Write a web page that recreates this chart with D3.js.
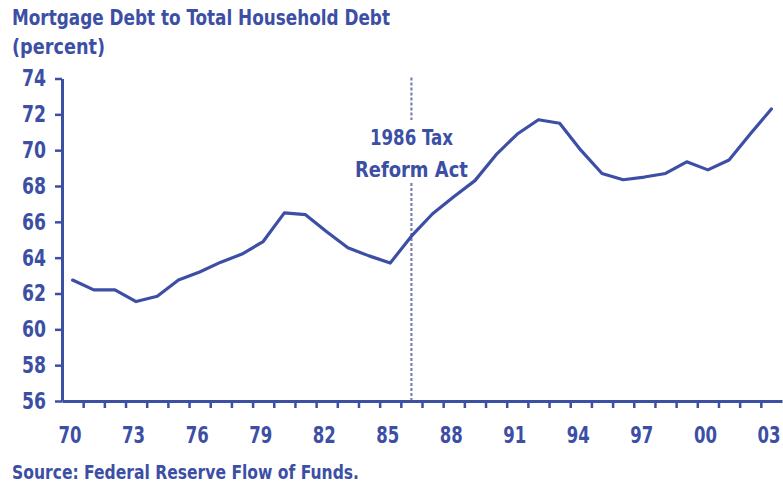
<!DOCTYPE html>
<html>
<head>
<meta charset="utf-8">
<script src="https://cdn.jsdelivr.net/npm/d3@7"></script>
<style>
  body { margin: 0; background: #fff; }
  svg text { font-family: "DejaVu Sans Condensed", "Liberation Sans", sans-serif; font-weight: bold; fill: #3c4fa5; }
</style>
</head>
<body>
<div id="chart"></div>
<script>
// data
var years = [1970, 1971, 1972, 1973, 1974, 1975, 1976, 1977, 1978, 1979,
             1980, 1981, 1982, 1983, 1984, 1985, 1986, 1987, 1988, 1989,
             1990, 1991, 1992, 1993, 1994, 1995, 1996, 1997, 1998, 1999,
             2000, 2001, 2002, 2003];
var mortgageShare = [62.75, 62.2, 62.2, 61.55, 61.85, 62.75, 63.2, 63.75, 64.2, 64.9,
                     66.5, 66.4, 65.45, 64.55, 64.1, 63.7, 65.2, 66.45, 67.4, 68.3,
                     69.75, 70.9, 71.7, 71.5, 70.0, 68.7, 68.35, 68.5, 68.7, 69.35,
                     68.9, 69.45, 70.9, 72.3];
var yTicks = [56, 58, 60, 62, 64, 66, 68, 70, 72, 74];
var xLabelYears = [1970, 1973, 1976, 1979, 1982, 1985, 1988, 1991, 1994, 1997, 2000, 2003];
var eventYear = 1986;
var eventLabel = ["1986 Tax", "Reform Act"];

var width = 783, height = 486;
var blue = "#3c4fa5";

var svg = d3.select("#chart")
  .append("svg")
    .attr("width", width)
    .attr("height", height);

var x = d3.scaleLinear().domain([1970, 2004]).range([62, 782]);
var y = d3.scaleLinear().domain([56, 74]).range([401, 78.5]);

// the reference uses a narrow face, so squeeze text to its measured widths
function squeeze(sel, w) {
  sel.attr("textLength", w).attr("lengthAdjust", "spacingAndGlyphs");
}

// title
svg.append("text")
    .attr("x", 12).attr("y", 25)
    .attr("font-size", "21px")
    .text("Mortgage Debt to Total Household Debt")
    .call(squeeze, 378);
svg.append("text")
    .attr("x", 12).attr("y", 54)
    .attr("font-size", "21px")
    .text("(percent)")
    .call(squeeze, 93);

// event marker (dashed, broken around the label)
var ex = x(eventYear + 0.5);
var dashed = svg.append("g")
    .attr("stroke", "#7a81b6")
    .attr("stroke-width", 2.2)
    .attr("stroke-dasharray", "3,2");
dashed.append("line").attr("x1", ex).attr("x2", ex).attr("y1", y(74) - 1).attr("y2", 120);
dashed.append("line").attr("x1", ex).attr("x2", ex).attr("y1", 183).attr("y2", y(56));

var labelWidths = [83, 113];
svg.selectAll(".event-label")
  .data(eventLabel)
  .enter().append("text")
    .attr("class", "event-label")
    .attr("x", ex)
    .attr("y", function(d, i) { return 145 + i * 32; })
    .attr("text-anchor", "middle")
    .attr("font-size", "22px")
    .attr("textLength", function(d, i) { return labelWidths[i]; })
    .attr("lengthAdjust", "spacingAndGlyphs")
    .text(function(d) { return d; });

// y axis
var yAxis = svg.append("g")
    .attr("transform", "translate(" + x(1970) + ",0)")
    .call(d3.axisLeft(y).tickValues(yTicks).tickSize(7).tickSizeOuter(0).tickPadding(9));

// x axis, a tick at each year boundary
var xAxis = svg.append("g")
    .attr("transform", "translate(0," + y(56) + ")")
    .call(d3.axisBottom(x).tickValues(d3.range(1971, 2004)).tickSize(7).tickSizeOuter(0).tickFormat(""));

[yAxis, xAxis].forEach(function(g) {
  g.select(".domain").attr("stroke", blue).attr("stroke-width", 3);
  g.selectAll(".tick line").attr("stroke", blue).attr("stroke-width", 2.5);
  g.selectAll(".tick text")
    .attr("fill", blue)
    .attr("font-size", "23px")
    .style("font-family", '"DejaVu Sans Condensed", sans-serif')
    .call(squeeze, 24);
});

// x labels, roughly centered on each year (right-anchored so "03" stays inside)
svg.selectAll(".xlab")
  .data(xLabelYears)
  .enter().append("text")
    .attr("class", "xlab")
    .attr("x", function(d) { return x(d + 0.5) + 9; })
    .attr("y", 443)
    .attr("text-anchor", "end")
    .attr("font-size", "23px")
    .text(function(d) { return String(d % 100).padStart(2, "0"); })
    .call(squeeze, 23);

// the series
var line = d3.line()
    .x(function(d, i) { return x(years[i] + 0.5); })
    .y(function(d) { return y(d); });

svg.append("path")
    .datum(mortgageShare)
    .attr("fill", "none")
    .attr("stroke", blue)
    .attr("stroke-width", 3.2)
    .attr("stroke-linejoin", "round")
    .attr("stroke-linecap", "round")
    .attr("d", line);

// source
svg.append("text")
    .attr("x", 12).attr("y", 479)
    .attr("font-size", "19px")
    .text("Source: Federal Reserve Flow of Funds.")
    .call(squeeze, 347);
</script>
</body>
</html>
